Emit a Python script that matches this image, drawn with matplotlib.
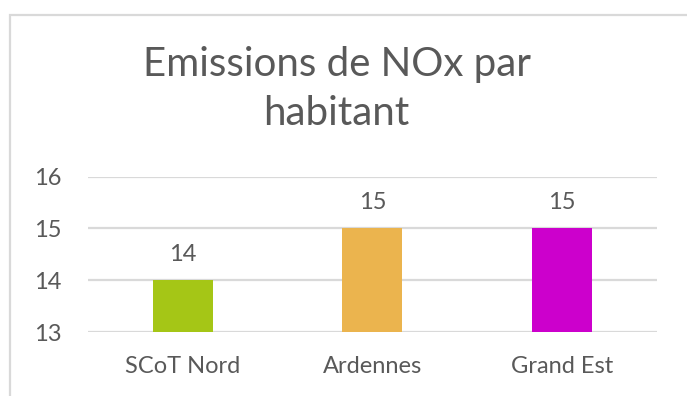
import matplotlib
matplotlib.use('Agg')
import matplotlib.pyplot as plt
from matplotlib.patches import Rectangle

# Emissions de NOx par habitant
territoires = ['SCoT Nord', 'Ardennes', 'Grand Est']
emissions = [14, 15, 15]
couleurs = ['#A5C616', '#EBB44E', '#CC00CC']
graduations = [13, 14, 15, 16]

plt.rcParams['font.family'] = ['Lato', 'DejaVu Sans']
gris = '#595959'

fig = plt.figure(figsize=(6.87, 3.96), dpi=100)
ax = fig.add_axes([0.128, 0.161, 0.828, 0.393])

x = range(len(territoires))
bars = ax.bar(x, emissions, width=0.316, color=couleurs, zorder=3)
ax.bar_label(bars, labels=[str(v) for v in emissions], padding=11,
             fontsize=17, color=gris)

ax.set_ylim(13, 16)
ax.set_xlim(-0.5, 2.5)
ax.set_yticks(graduations)
ax.set_xticks(list(x))
ax.set_xticklabels(territoires)
ax.tick_params(axis='both', length=0, labelsize=17, labelcolor=gris)
ax.tick_params(axis='y', pad=19)
ax.tick_params(axis='x', pad=17)
ax.grid(axis='y', color='#D9D9D9', linewidth=1.6, zorder=0)
for s in ax.spines.values():
    s.set_visible(False)

fig.text(0.49, 0.775, 'Emissions de NOx par\nhabitant', ha='center', va='center',
         fontsize=29, color=gris, linespacing=1.38)

# cadre du graphique
fig.add_artist(Rectangle((10 / 687, -0.2), 1.2, 0.2 + (1 - 15 / 396),
                         transform=fig.transFigure, fill=False,
                         edgecolor='#D9D9D9', linewidth=1.6))

fig.savefig('out.png', dpi=100)
